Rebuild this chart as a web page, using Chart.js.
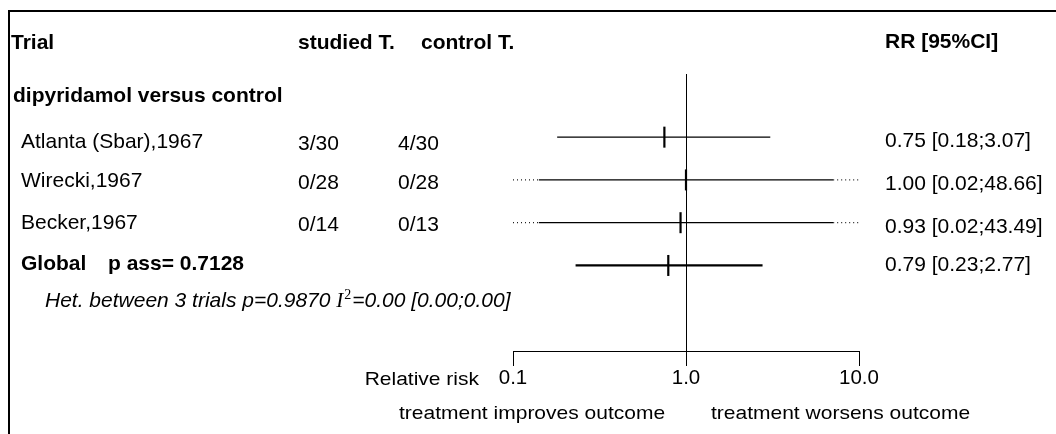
<!DOCTYPE html>
<html>
<head>
<meta charset="utf-8">
<script src="https://cdn.jsdelivr.net/npm/chart.js@4.4.1/dist/chart.umd.min.js"></script>
<style>
  html, body { margin: 0; padding: 0; background: #fff; }
  #wrap { width: 1056px; height: 434px; position: relative; }
</style>
</head>
<body>
<div id="wrap"><canvas id="forest"></canvas></div>
<script>
const trialNames = ["Atlanta (Sbar),1967", "Wirecki,1967", "Becker,1967"]
const studiedEvents = ["3/30", "0/28", "0/14"]
const controlEvents = ["4/30", "0/28", "0/13"]
const trialRR = [0.75, 1.00, 0.93]
const trialLower = [0.18, 0.02, 0.02]
const trialUpper = [3.07, 48.66, 43.49]
const globalRR = 0.79
const globalLower = 0.23
const globalUpper = 2.77
const pAssociation = "0.7128"
const hetP = "0.9870"
const hetI2 = ["0.00", "0.00", "0.00"]
const axisTicks = [0.1, 1, 10]
const axisMin = 0.1
const axisMax = 10

const SANS = '"Liberation Sans", Arial, Helvetica, sans-serif'
const SERIF = '"Liberation Serif", "Times New Roman", serif'
const cutGap = 1.41 // solid part stops short of the axis end when a CI is cut

function ciParts(lo, hi) {
  let a = lo, b = hi
  const dotted = []
  if (lo < axisMin) { a = axisMin * cutGap; dotted.push([axisMin, a]) }
  if (hi > axisMax) { b = axisMax / cutGap; dotted.push([b, axisMax]) }
  return { solid: [a, b], dotted }
}

const datasets = []
const allLower = trialLower.concat([globalLower])
const allUpper = trialUpper.concat([globalUpper])
allLower.forEach((lo, i) => {
  const row = i + 1
  const isGlobal = i === trialLower.length
  const parts = ciParts(lo, allUpper[i])
  datasets.push({
    data: parts.solid.map(v => ({ x: v, y: row })),
    showLine: true, pointRadius: 0,
    borderColor: "#000", borderWidth: isGlobal ? 2.2 : 1.3
  })
  parts.dotted.forEach(seg => {
    datasets.push({
      data: seg.map(v => ({ x: v, y: row })),
      showLine: true, pointRadius: 0,
      borderColor: "#222", borderWidth: 1.2, borderDash: [1, 3]
    })
  })
})
datasets.push({
  data: trialRR.concat([globalRR]).map((v, i) => ({ x: v, y: i + 1 })),
  showLine: false,
  pointStyle: "line", pointRotation: 90, pointRadius: 10.5,
  pointBorderColor: "#000", pointBorderWidth: 2.2
})

const fmt = v => v.toFixed(2)

function squished(ctx, text, x, y, align) {
  ctx.save()
  ctx.translate(x, y)
  ctx.scale(1, 0.87)
  ctx.textAlign = align
  ctx.fillText(text, 0, 0)
  ctx.restore()
}

const forestText = {
  id: "forestText",
  beforeDatasetsDraw(chart) {
    const ctx = chart.ctx
    const x = chart.scales.x
    ctx.save()
    ctx.strokeStyle = "#000"
    ctx.lineWidth = 2
    ctx.strokeRect(9, 11, 1200, 600)
    const x1 = Math.round(x.getPixelForValue(1)) + 0.5
    ctx.lineWidth = 1
    ctx.beginPath()
    ctx.moveTo(x1, 74)
    ctx.lineTo(x1, chart.chartArea.bottom + 15)
    ctx.stroke()
    ctx.restore()
  },
  afterDraw(chart) {
    const ctx = chart.ctx
    const y = chart.scales.y
    ctx.save()
    ctx.fillStyle = "#000"
    ctx.textBaseline = "alphabetic"
    ctx.textAlign = "left"

    ctx.font = "bold 21px " + SANS
    ctx.fillText("Trial", 11, 49)
    ctx.fillText("studied T.", 298, 49)
    ctx.fillText("control T.", 421, 49)
    ctx.fillText("RR [95%CI]", 885, 48)
    ctx.fillText("dipyridamol versus control", 13, 102)

    const offs = [11, 7, 6]
    ctx.font = "21px " + SANS
    trialNames.forEach((name, i) => {
      const yy = y.getPixelForValue(i + 1)
      ctx.fillText(name, 21, yy + offs[i])
      ctx.fillText(studiedEvents[i], 298, yy + offs[i] + 2)
      ctx.fillText(controlEvents[i], 398, yy + offs[i] + 2)
      ctx.fillText(`${fmt(trialRR[i])} [${fmt(trialLower[i])};${fmt(trialUpper[i])}]`, 885, yy + 10)
    })

    const yg = y.getPixelForValue(trialNames.length + 1)
    ctx.fillText(`${fmt(globalRR)} [${fmt(globalLower)};${fmt(globalUpper)}]`, 885, yg + 6)
    ctx.font = "bold 21px " + SANS
    ctx.fillText("Global", 21, yg + 5)
    ctx.fillText(`p ass= ${pAssociation}`, 108, yg + 5)

    // heterogeneity line
    let hx = 45
    const hy = 307
    const itFont = "italic 21px " + SANS
    ctx.font = itFont
    const p1 = `Het. between ${trialNames.length} trials p=${hetP} `
    ctx.fillText(p1, hx, hy)
    hx += ctx.measureText(p1).width
    ctx.font = "italic 21px " + SERIF
    ctx.fillText("I", hx, hy)
    hx += ctx.measureText("I").width + 1
    ctx.font = "14px " + SERIF
    ctx.fillText("2", hx, hy - 8)
    hx += ctx.measureText("2").width + 1
    ctx.font = itFont
    ctx.fillText(`=${hetI2[0]} [${hetI2[1]};${hetI2[2]}]`, hx, hy)

    // axis captions
    ctx.font = "21px " + SANS
    squished(ctx, "Relative risk", 479, 385, "right")
    squished(ctx, "treatment improves outcome", 399, 419, "left")
    squished(ctx, "treatment worsens outcome", 711, 419, "left")
    ctx.restore()
  }
}

new Chart(document.getElementById("forest").getContext("2d"), {
  type: "scatter",
  data: { datasets },
  options: {
    responsive: true,
    maintainAspectRatio: false,
    animation: false,
    events: [],
    layout: { padding: { left: 513, right: 197, top: 73, bottom: 0 } },
    plugins: {
      legend: { display: false },
      tooltip: { enabled: false }
    },
    scales: {
      x: {
        type: "logarithmic",
        min: axisMin,
        max: axisMax,
        position: "bottom",
        afterBuildTicks: s => { s.ticks = axisTicks.map(v => ({ value: v })) },
        afterFit: s => { s.height = 83 },
        grid: { drawOnChartArea: false, drawTicks: true, tickLength: 15, color: "#000", lineWidth: 1 },
        border: { display: true, color: "#000", width: 1 },
        ticks: {
          callback: v => Number(v).toFixed(1),
          color: "#000",
          font: { family: SANS, size: 20.5 },
          padding: 0,
          maxRotation: 0,
          autoSkip: false
        }
      },
      y: { type: "linear", reverse: true, min: -0.5, max: 6, display: false }
    }
  },
  plugins: [forestText]
})
</script>
</body>
</html>
